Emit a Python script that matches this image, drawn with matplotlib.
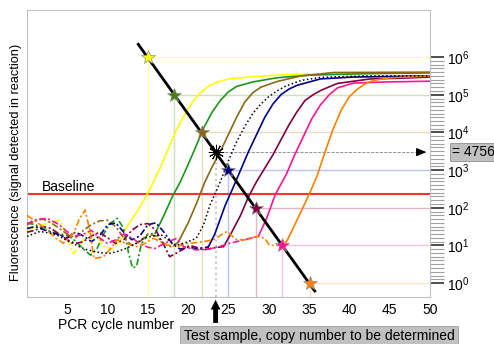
import matplotlib
matplotlib.use("Agg")
import matplotlib.pyplot as plt
import numpy as np

plt.rcParams['font.family'] = ['Liberation Sans', 'DejaVu Sans']

# ── DATA (cycle number, log10 fluorescence) ──────────────────────────────
# each curve: noisy baseline part (dash-dot) then amplification part (solid)
yellow_noise_x = [0, 1, 2, 3, 4, 5, 5.7, 6.5, 7.5, 8.5, 9.5, 10.5, 11.5, 12.4]
yellow_noise_y = [1.40, 1.48, 1.55, 1.62, 1.66, 1.25, 0.78, 0.95, 1.35, 1.30, 0.98, 0.90, 1.10, 1.50]
yellow_rise_x = [12.4, 13.5, 14.5, 15.5, 16.5, 17.5, 18.5, 19.5, 20.5, 21.5, 22.5, 23.5, 25, 28, 32, 38, 44, 50]
yellow_rise_y = [1.50, 1.85, 2.20, 2.60, 3.05, 3.55, 4.05, 4.45, 4.80, 5.05, 5.22, 5.33, 5.42, 5.48, 5.53, 5.56, 5.57, 5.58]

green_noise_x = [0, 1, 2, 3, 4, 5, 6, 7, 7.9, 8.7, 9.5, 10.3, 11.2, 12.0, 12.6, 13.1, 13.6, 14.2, 15.0, 15.9]
green_noise_y = [1.60, 1.55, 1.45, 1.36, 1.30, 1.27, 1.12, 0.90, 0.74, 0.92, 1.30, 1.58, 1.72, 1.45, 0.80, 0.40, 0.45, 1.05, 1.30, 1.32]
green_rise_x = [15.9, 17, 18, 19, 20, 21, 22, 23, 24, 25, 26, 28, 31, 35, 42, 50]
green_rise_y = [1.32, 1.80, 2.28, 2.68, 3.15, 3.65, 4.15, 4.55, 4.85, 5.08, 5.22, 5.34, 5.45, 5.52, 5.56, 5.58]

brown_noise_x = [0, 1, 2, 3, 4, 5, 6, 7, 8, 9, 10, 11, 12, 13, 14, 15, 16, 17, 18, 18.8]
brown_noise_y = [1.55, 1.65, 1.70, 1.60, 1.45, 1.30, 1.20, 1.40, 1.55, 1.65, 1.67, 1.50, 1.20, 1.00, 1.10, 1.30, 1.25, 1.05, 0.95, 1.10]
brown_rise_x = [18.8, 20, 21, 22, 23, 24, 25, 26, 27, 28, 29, 31, 34, 38, 50]
brown_rise_y = [1.10, 1.60, 2.10, 2.65, 3.10, 3.50, 3.95, 4.40, 4.80, 5.05, 5.20, 5.35, 5.50, 5.59, 5.60]

test_noise_x = [0, 1.6, 3, 4.1, 5, 6.2, 7.2, 8.3, 9.3, 10.3, 11.4, 12.4, 13.5, 14.5, 15.6, 16.7, 17.5, 18.4, 19.2, 20, 21]
test_noise_y = [1.24, 1.37, 1.32, 1.24, 1.12, 1.00, 0.90, 0.84, 0.80, 0.79, 0.85, 0.93, 1.05, 1.19, 1.25, 1.27, 1.15, 1.01, 1.04, 1.10, 1.19]
test_rise_x = [21, 21.9, 22.7, 24, 25, 26, 27, 28, 29, 30, 31, 32, 34, 36.4, 42, 50]
test_rise_y = [1.19, 1.54, 2.07, 2.70, 3.25, 3.75, 4.15, 4.50, 4.75, 4.95, 5.10, 5.22, 5.38, 5.46, 5.50, 5.50]

navy_noise_x = [0, 1, 2, 3, 4, 5, 6, 7, 8, 9, 10, 11, 12, 13, 14, 15, 16, 17, 18, 19, 20, 21, 22, 22.5]
navy_noise_y = [1.45, 1.50, 1.42, 1.35, 1.28, 1.20, 1.35, 1.25, 1.10, 1.25, 1.55, 1.60, 1.35, 1.15, 1.25, 1.55, 1.60, 1.35, 1.05, 0.90, 0.95, 0.92, 0.94, 0.96]
navy_rise_x = [22.5, 23.3, 24.6, 25.5, 26.5, 27.5, 28.5, 29.5, 30.5, 31.5, 32.5, 33.5, 36.4, 40.5, 50]
navy_rise_y = [0.96, 1.30, 2.07, 2.50, 3.00, 3.50, 3.95, 4.40, 4.75, 5.00, 5.15, 5.25, 5.42, 5.47, 5.50]

maroon_noise_x = [0, 1, 2, 3, 4, 5, 6, 7, 8, 9, 10, 11, 12, 13, 14, 15, 16, 17, 17.7, 19, 20.2, 21, 21.9, 23.1, 24.4]
maroon_noise_y = [1.35, 1.40, 1.50, 1.45, 1.30, 1.15, 1.05, 1.10, 1.25, 1.35, 1.20, 1.05, 1.15, 1.40, 1.55, 1.58, 1.40, 1.00, 0.70, 0.85, 1.00, 0.95, 0.88, 0.93, 0.97]
maroon_rise_x = [24.4, 25.4, 26.5, 27.5, 28.5, 29.5, 30.5, 31.5, 32.5, 33.5, 34.5, 35.5, 36.5, 38.5, 42.6, 46.6, 50]
maroon_rise_y = [0.97, 1.35, 1.80, 2.30, 2.70, 3.05, 3.40, 3.80, 4.20, 4.55, 4.85, 5.00, 5.12, 5.30, 5.42, 5.44, 5.47]

pink_noise_x = [0, 0.8, 2.5, 4, 5, 6, 7, 8, 9, 10, 11, 12, 13, 14, 15, 15.9, 17, 18.6, 19.4, 21, 22.5, 23.9, 25, 26, 27.7, 28.7]
pink_noise_y = [1.55, 1.67, 1.72, 1.55, 1.36, 1.25, 1.30, 1.40, 1.20, 1.05, 1.15, 1.30, 1.20, 1.05, 0.95, 0.92, 1.05, 1.19, 0.97, 0.88, 0.90, 0.97, 1.05, 1.10, 1.19, 1.24]
pink_rise_x = [28.7, 29.7, 30.8, 32.2, 33.2, 34.2, 35.3, 36.4, 37.5, 38.5, 40.5, 44.7, 50]
pink_rise_y = [1.24, 1.70, 2.35, 2.90, 3.40, 3.85, 4.35, 4.73, 5.00, 5.18, 5.31, 5.34, 5.36]

orange_noise_x = [0, 1, 2.5, 3.5, 4.5, 5.8, 6.5, 7.2, 7.8, 8.3, 9.5, 10.5, 11.2, 12.3, 13.6, 14.6, 15.7, 17.4, 18.6, 20, 21.9, 23.1, 24.8, 26, 27.2, 28.5, 29.5, 30.1, 31, 32.2]
orange_noise_y = [1.80, 1.65, 1.41, 1.20, 1.06, 1.33, 1.70, 1.94, 1.40, 0.65, 0.70, 0.95, 1.15, 1.05, 0.97, 1.05, 1.19, 1.01, 0.97, 1.05, 1.10, 1.15, 1.37, 1.15, 1.15, 1.24, 1.19, 1.00, 1.00, 1.10]
orange_rise_x = [32.2, 33, 34, 35, 36, 37, 38, 39, 40, 41, 42, 43, 45, 50]
orange_rise_y = [1.10, 1.45, 1.90, 2.35, 2.85, 3.50, 4.10, 4.60, 4.95, 5.15, 5.30, 5.38, 5.45, 5.50]

# standards (star markers on the standard curve)
std_ct = [15.0, 18.3, 21.7, 24.9, 28.4, 31.6, 35.1]
std_copies = [1e6, 1e5, 1e4, 1e3, 1e2, 1e1, 1e0]
std_colors = ['#ffff00', '#4a7d14', '#8b6508', '#000080', '#800040', '#ff1493', '#ff8000']
std_guides = ['#ffffb0', '#d0e0b8', '#e8dcc0', '#c0c0ff', '#dcb8c8', '#ffc0e0', '#ffe0c0']

test_ct = 23.4
test_copies = 3000
test_label = '= 4756'

line_x = [13.8, 35.7]
line_logy = [6.34, -0.21]

baseline = 230

curves = [
    (yellow_noise_x, yellow_noise_y, yellow_rise_x, yellow_rise_y, '#ffff00'),
    (green_noise_x, green_noise_y, green_rise_x, green_rise_y, '#1a961a'),
    (brown_noise_x, brown_noise_y, brown_rise_x, brown_rise_y, '#8b6914'),
    (navy_noise_x, navy_noise_y, navy_rise_x, navy_rise_y, '#000090'),
    (maroon_noise_x, maroon_noise_y, maroon_rise_x, maroon_rise_y, '#800040'),
    (pink_noise_x, pink_noise_y, pink_rise_x, pink_rise_y, '#ff1493'),
    (orange_noise_x, orange_noise_y, orange_rise_x, orange_rise_y, '#ff8000'),
]

XMIN, XMAX = 0, 50
YMIN, YMAX = 10**-0.37, 10**7.25

# ── FIGURE ───────────────────────────────────────────────────────────────
fig = plt.figure(figsize=(4.94, 3.44), dpi=100, facecolor='w')
ax = fig.add_axes([27/494, 1-297/344, 403/494, 287/344])
ax.set_yscale('log')
ax.set_xlim(XMIN, XMAX)
ax.set_ylim(YMIN, YMAX)

# guide lines from each standard
for ct, cp, gc in zip(std_ct, std_copies, std_guides):
    ax.plot([ct, ct], [YMIN, cp], color=gc, lw=1, zorder=1)
    ax.plot([ct, XMAX], [cp, cp], color=gc, lw=1, zorder=1)
ax.plot([test_ct, test_ct], [YMIN, test_copies], color='#c8c8c8', lw=1.5, ls=':', zorder=1)

# baseline
ax.axhline(baseline, color='#ff3030', lw=1.5, zorder=2)
ax.text(1.9, 10**2.56, 'Baseline', fontsize=10, va='center', ha='left')

# amplification curves
dashdot = (0, (4, 1.5, 1.2, 1.5))
for nx, ny, rx, ry, c in curves:
    ax.plot(nx, 10**np.array(ny), color=c, lw=1.2, ls=dashdot, zorder=3)
    ax.plot(rx, 10**np.array(ry), color=c, lw=1.2, zorder=3)
tx = test_noise_x + test_rise_x[1:]
ty = test_noise_y + test_rise_y[1:]
ax.plot(tx, 10**np.array(ty), color='k', lw=1.1, ls=(0, (1, 1.6)), zorder=3)

# standard curve
ax.plot(line_x, 10**np.array(line_logy), color='k', lw=2, zorder=4)
for ct, cp, c in zip(std_ct, std_copies, std_colors):
    ax.plot(ct, cp, marker='*', ms=10, color=c, mec='#909090', mew=0.5, zorder=5)
ax.plot(test_ct, test_copies, marker=(12, 2, 0), ms=11, color='k', mew=0.7, zorder=5)

# test sample readout to the right
ax.plot([test_ct, 49.3], [test_copies, test_copies], color='#808080', lw=0.6, ls='--', zorder=2)
ax.annotate('', xy=(49.9, test_copies), xytext=(48.3, test_copies),
            arrowprops=dict(arrowstyle='-|>,head_width=0.25,head_length=0.6', color='k', lw=0.8),
            annotation_clip=False, zorder=6)
fig.text(452/494, 1-152/344, test_label, fontsize=10, ha='left', va='center',
         bbox=dict(boxstyle='square,pad=0.15', facecolor='#c0c0c0', edgecolor='#909090', lw=0.6))

# axes styling
for s in ax.spines.values():
    s.set_color('#c0c0c0')
ax.set_xticks(range(5, 51, 5))
ax.tick_params(axis='x', length=0, labelsize=10, pad=4)
ax.yaxis.tick_right()
ax.set_yticks([10.0**k for k in range(0, 7)])
ax.set_yticks([10**(k + j/10) for k in range(0, 6) for j in range(1, 10)], minor=True)
ax.set_yticklabels([], minor=True)
ax.tick_params(axis='y', which='major', length=10, width=1.3, color='#404040', labelsize=10, pad=2)
ax.tick_params(axis='y', which='minor', length=10, width=0.8, color='#a0a0a0')

fig.text(116/494, 1-325/344, 'PCR cycle number', fontsize=10, ha='center', va='center')
fig.text(16/494, 1-162/344, 'Fluorescence (signal detected in reaction)', fontsize=9.2,
         rotation=90, ha='center', va='center')

# arrow and label for test sample
ax.annotate('', xy=(test_ct, 0.0), xycoords=('data', 'axes fraction'),
            xytext=(test_ct, -0.1), textcoords=('data', 'axes fraction'),
            arrowprops=dict(arrowstyle='simple,head_width=0.7,head_length=0.7,tail_width=0.35',
                            color='k', lw=0), annotation_clip=False)
fig.text(319/494, 1-336/344, 'Test sample, copy number to be determined', fontsize=10,
         ha='center', va='center',
         bbox=dict(boxstyle='square,pad=0.25', facecolor='#c0c0c0', edgecolor='#a0a0a0', lw=0.6))

fig.savefig('out.png', dpi=100)
